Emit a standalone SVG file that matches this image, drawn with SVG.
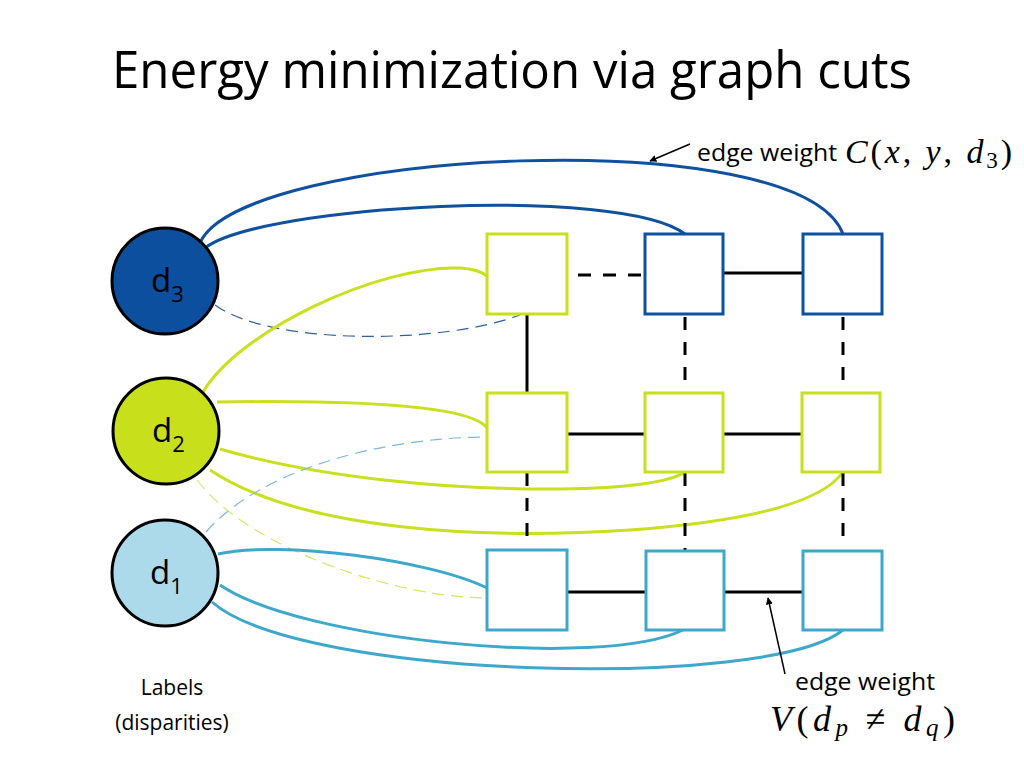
<svg xmlns="http://www.w3.org/2000/svg" width="1024" height="768" viewBox="0 0 1024 768">
<defs>
<style>
.title{font-family:"Open Sans","Liberation Sans",sans-serif;font-size:52px;fill:#000}
.lbl{font-family:"Open Sans","Liberation Sans",sans-serif;fill:#000}
.math{font-family:"Liberation Serif","DejaVu Serif",serif;fill:#000}
.it{font-style:italic}
.node{stroke:#000;stroke-width:3}
.sqG{fill:#fff;stroke:#c8e01e;stroke-width:3}
.sqD{fill:#fff;stroke:#0f519e;stroke-width:3}
.sqL{fill:#fff;stroke:#3ea8cc;stroke-width:3}
.e{fill:none;stroke:#000;stroke-width:3}
.ed{fill:none;stroke:#000;stroke-width:3;stroke-dasharray:13 12}
.cD{fill:none;stroke:#0f519e;stroke-width:3}
.cG{fill:none;stroke:#c8e01e;stroke-width:3}
.cL{fill:none;stroke:#3ea8cc;stroke-width:3}
.dD{fill:none;stroke:#2f5f9e;stroke-width:1.2;stroke-dasharray:12 7}
.dG{fill:none;stroke:#d2e66a;stroke-width:1.2;stroke-dasharray:12 7}
.dL{fill:none;stroke:#7cb8d8;stroke-width:1.2;stroke-dasharray:12 7}
.arr{fill:none;stroke:#000;stroke-width:1.5}
</style>
<marker id="ah" viewBox="0 0 10 10" refX="9" refY="5" markerWidth="7" markerHeight="7" orient="auto-start-reverse" markerUnits="userSpaceOnUse">
<path d="M0,0 L10,5 L0,10 z" fill="#000"/>
</marker>
</defs>
<rect width="1024" height="768" fill="#fff"/>
<text class="title" x="512" y="88" text-anchor="middle" textLength="800" lengthAdjust="spacingAndGlyphs">Energy minimization via graph cuts</text>

<g id="connectors">
<path class="cD" d="M200,243 C240,150 800,120 843,234"/>
<path class="cD" d="M205,248 C260,205 620,185 685,234"/>
<path class="dD" d="M215,305 C270,345 440,345 520,315"/>
<path class="cG" d="M203,392 C240,330 380,265 460,268 Q478,269 487,276"/>
<path class="cG" d="M217,402 C350,400 470,405 487,428"/>
<path class="cG" d="M220,449 C320,478 450,490 560,489 C630,488 670,482 685,472"/>
<path class="cG" d="M210,470 C300,530 480,540 630,530 C740,522 820,505 843,472"/>
<path class="dL" d="M206,532 C260,470 380,438 485,437"/>
<path class="dG" d="M197,480 C250,550 400,598 487,598"/>
<path class="cL" d="M218,554 C280,540 430,560 487,588"/>
<path class="cL" d="M220,585 C300,640 600,670 683,630"/>
<path class="cL" d="M212,602 C300,680 770,690 843,630"/>
<line class="ed" x1="578" y1="275" x2="645" y2="275"/>
<line class="e" x1="723" y1="273" x2="803" y2="273"/>
<line class="e" x1="567" y1="434" x2="645" y2="434"/>
<line class="e" x1="723" y1="434" x2="802" y2="434"/>
<line class="e" x1="567" y1="592" x2="646" y2="592"/>
<line class="e" x1="724" y1="592" x2="803" y2="592"/>
<line class="e" x1="527" y1="314" x2="527" y2="393"/>
<line class="ed" x1="527" y1="473" x2="527" y2="542"/>
<line class="ed" x1="685" y1="317" x2="685" y2="383"/>
<line class="ed" x1="685" y1="473" x2="685" y2="554"/>
<line class="ed" x1="843" y1="317" x2="843" y2="383"/>
<line class="ed" x1="843" y1="473" x2="843" y2="539"/>
<line class="arr" x1="690" y1="144" x2="650" y2="161" marker-end="url(#ah)"/>
<line class="arr" x1="785" y1="674" x2="768" y2="598" marker-end="url(#ah)"/>
</g>

<g id="d3"><circle class="node" cx="165" cy="281" r="53" fill="#0b4f9e"/><text class="lbl" x="151" y="292" font-size="33">d<tspan font-size="22" dy="10">3</tspan></text></g>
<g id="d2"><circle class="node" cx="166" cy="431" r="53" fill="#c7e01b"/><text class="lbl" x="152" y="442" font-size="33">d<tspan font-size="22" dy="10">2</tspan></text></g>
<g id="d1"><circle class="node" cx="165" cy="573" r="53" fill="#acdaea"/><text class="lbl" x="150" y="584" font-size="33">d<tspan font-size="22" dy="10">1</tspan></text></g>

<g id="n11"><rect class="sqG" x="487" y="234" width="80" height="80"/></g>
<g id="n12"><rect class="sqD" x="645" y="234" width="78" height="80"/></g>
<g id="n13"><rect class="sqD" x="803" y="234" width="79" height="80"/></g>
<g id="n21"><rect class="sqG" x="487" y="393" width="80" height="79"/></g>
<g id="n22"><rect class="sqG" x="645" y="393" width="78" height="79"/></g>
<g id="n23"><rect class="sqG" x="802" y="393" width="78" height="79"/></g>
<g id="n31"><rect class="sqL" x="487" y="550" width="80" height="80"/></g>
<g id="n32"><rect class="sqL" x="646" y="551" width="78" height="79"/></g>
<g id="n33"><rect class="sqL" x="803" y="551" width="79" height="79"/></g>

<g id="labels">
<text class="lbl" x="697" y="161" font-size="24" textLength="140" lengthAdjust="spacingAndGlyphs">edge weight</text>
<text class="math" x="845" y="163" font-size="34" textLength="167" lengthAdjust="spacing"><tspan class="it">C</tspan>(<tspan class="it">x</tspan>, <tspan class="it">y</tspan>, <tspan class="it">d</tspan><tspan font-size="23" dy="5">3</tspan><tspan dy="-5">)</tspan></text>
<text class="lbl" x="865" y="690" font-size="24" text-anchor="middle" textLength="140" lengthAdjust="spacingAndGlyphs">edge weight</text>
<text class="math" x="770" y="731" font-size="36" textLength="185" lengthAdjust="spacing"><tspan class="it">V</tspan>(<tspan class="it">d</tspan><tspan class="it" font-size="25" dy="5">p</tspan><tspan dy="-5"> ≠ </tspan><tspan class="it">d</tspan><tspan class="it" font-size="25" dy="5">q</tspan><tspan dy="-5">)</tspan></text>
<text class="lbl" x="172" y="695" font-size="21" text-anchor="middle">Labels</text>
<text class="lbl" x="172" y="730" font-size="21" text-anchor="middle">(disparities)</text>
</g>
</svg>
